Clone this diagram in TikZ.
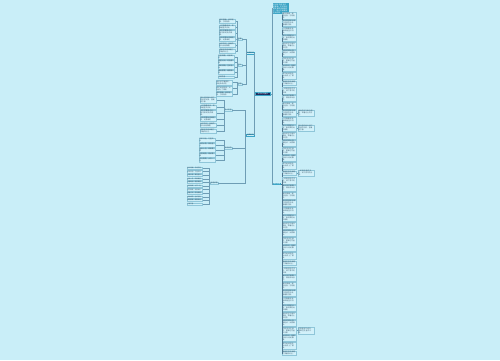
\documentclass[tikz,border=0pt]{standalone}
\usepackage{fontspec}
\newfontfamily\cjk{Noto Sans CJK SC}
\XeTeXlinebreaklocale "zh"
\XeTeXlinebreakskip = 0pt plus 0.3pt
\usepackage{tikz}
\usetikzlibrary{positioning}

\definecolor{bgcol}{HTML}{C9EEF8}
\definecolor{leaffill}{HTML}{D2F1FA}
\definecolor{leafline}{HTML}{8FC6D9}
\definecolor{leaftext}{HTML}{3E5A6E}
\definecolor{linkcol}{HTML}{6E9DB5}
\definecolor{trunkcol}{HTML}{4F7690}
\definecolor{navy}{HTML}{1C2A5C}
\definecolor{teal}{HTML}{3AA4C6}

\newcommand\phrase[1]{\ifcase#1\relax
  春风拂面，柳枝轻摇，万物复苏。\or
  阳光透过树叶洒下斑驳的光影，温暖而宁静。\or
  小河静静流淌，倒映着蓝天白云。\or
  夜空中繁星点点，像无数眨动的眼睛。\or
  雨后的空气格外清新，带着泥土的芬芳。\or
  远处的群山连绵起伏，云雾缭绕。\or
  花园里百花盛开，蜜蜂在花丛中忙碌。\or
  秋风吹过，金黄的树叶纷纷飘落。\or
  雪花纷纷扬扬，大地披上了银装。\or
  清晨的鸟鸣唤醒了沉睡的村庄。\or
  一轮明月挂在天边，洒下清冷的光辉。\or
  海浪拍打着礁石，溅起朵朵浪花。\fi}
\newcommand\shortword[1]{\ifcase#1\relax
  春光明媚，鸟语花香\or 风和日丽，万里无云\or 山清水秀，景色宜人\or
  金秋十月，硕果累累\or 白雪皑皑，银装素裹\or 波光粼粼，水天一色\or
  花团锦簇，姹紫嫣红\or 繁星点点，月色朦胧\or 绿树成荫，生机勃勃\or
  细雨蒙蒙，烟雾缭绕\or 鸟语花香\fi}

\tikzset{
  tiny/.style={font=\cjk\fontsize{1.7}{2.0}\selectfont},
  leaf/.style={tiny, draw=leafline, fill=leaffill, line width=0.2pt, inner sep=0.45pt,
    text width=13.5pt, align=left, text=leaftext},
  lleaf/.style={leaf, text width=15pt},
  sleaf/.style={leaf, font=\cjk\fontsize{1.5}{1.8}\selectfont, text width=14pt},
  subnode/.style={tiny, draw=leafline, fill=bgcol, line width=0.2pt, inner sep=0.4pt, text=leaftext},
  child/.style={tiny, draw=teal, fill=leaffill, line width=0.3pt, inner sep=0.5pt, text=leaftext},
  link/.style={draw=linkcol, line width=0.3pt},
  trunk/.style={draw=trunkcol, line width=0.5pt}
}

\begin{document}
\begin{tikzpicture}[x=1pt, y=-1pt]
  \fill[bgcol] (0,0) rectangle (500,360);
  \useasboundingbox (0,0) rectangle (500,360);

  % centre and right side
  \node (root) [tiny, draw=teal, fill=navy, text=white, minimum width=15pt, minimum height=3pt, inner sep=0.4pt] at (263,94) {好词好句摘抄};
  \node (t) [tiny, fill=teal, text=white, text width=15pt, align=left, inner sep=0.5pt, anchor=north west] at (272.5,3)
    {好词好句是写作的基础，平时多积累优美的词语和句子，能让文章更加生动形象。};
  \node (r) [tiny, fill=teal, text=white, minimum width=7pt, inner sep=0.4pt, anchor=west] at (273,184) {精彩段落};
  \draw[link] (root.east) -- ++(1.5,0) |- (t.west);
  \draw[link] (root.east) -- ++(1.5,0) |- (r.west);

  \foreach \i in {0,...,45}{
    \pgfmathtruncatemacro\k{mod(\i,12)}
    \node (r\i) [leaf, anchor=west] at (282,15.5+7.5*\i) {\phrase{\k}};
    \draw[trunk] (r.east) -- ++(1.2,0) |- (r\i.west);
  }
  \node (e13) [leaf, text width=15pt, right=1.2pt of r13] {\phrase{4}};
  \node (e15) [leaf, text width=15pt, right=1.2pt of r15] {\phrase{1}};
  \node (e21) [leaf, text width=15pt, right=1.2pt of r21] {\phrase{10}};
  \node (e42) [leaf, text width=15pt, right=1.2pt of r42] {\phrase{6}};
  \foreach \j in {13,15,21,42}
    \draw[link] (r\j.east) -- (e\j.west);

  % left side
  \node (c1) [child, anchor=east] at (254.5,53) {优美好词};
  \node (c2) [child, anchor=east] at (254.5,135) {经典好句};
  \draw[link] (root.west) -- ++(-0.8,0) |- (c1.east);
  \draw[link] (root.west) -- ++(-0.8,0) |- (c2.east);

  \node (s11) [subnode, anchor=east] at (242,39) {写景};
  \node (s12) [subnode, anchor=east] at (242,65) {写人};
  \node (s13) [subnode, anchor=east] at (242,84) {写物};
  \foreach \s in {s11,s12,s13}
    \draw[link] (c1.west) -- ++(-0.6,0) |- (\s.east);

  \foreach \y/\p [count=\n] in {21/0,27/2,33/3,39/5,45/7,51/9}
    \draw[link] (s11.west) -- ++(-0.5,0) |- (235,\y)
      node (a\n) [lleaf, anchor=east] {\phrase{\p}};
  \foreach \y [count=\n from 6] in {57,62,67,72,77}
    \draw[link] (s12.west) -- ++(-0.5,0) |- (234,\y)
      node (b\n) [lleaf, anchor=east] {\shortword{\n}};
  \foreach \y/\p [count=\n] in {82.5/11,88.5/8,94/0}
    \draw[link] (s13.west) -- ++(-0.5,0) |- (232,\y)
      node (d\n) [lleaf, anchor=east] {\phrase{\p}};

  \node (s21) [subnode, anchor=east] at (232,110) {名人名言};
  \node (s22) [subnode, anchor=east] at (232,148) {诗词佳句};
  \node (s23) [subnode, anchor=east] at (218,183) {俗语谚语};
  \foreach \s in {s21,s22,s23}
    \draw[link] (c2.west) -- ++(-1.2,0) |- (\s.east);

  \foreach \y/\p [count=\n] in {100/1,107/2,113/3,119/5,125/7,131/9}
    \draw[link] (s21.west) -- ++(-0.5,0) |- (216,\y)
      node (f\n) [lleaf, anchor=east] {\phrase{\p}};
  \foreach \y [count=\n from 1] in {140,145,150,155,160}
    \draw[link] (s22.west) -- ++(-0.5,0) |- (215,\y)
      node (g\n) [lleaf, anchor=east] {\shortword{\n}};
  \foreach \y [count=\n from 0] in {168,171.6,175.2,178.8,182.4,186,189.6,193.2,196.8,200.4,204}
    \draw[link] (s23.west) -- ++(-0.8,0) |- (202,\y)
      node (h\n) [sleaf, anchor=east] {\shortword{\n}};
\end{tikzpicture}
\end{document}
